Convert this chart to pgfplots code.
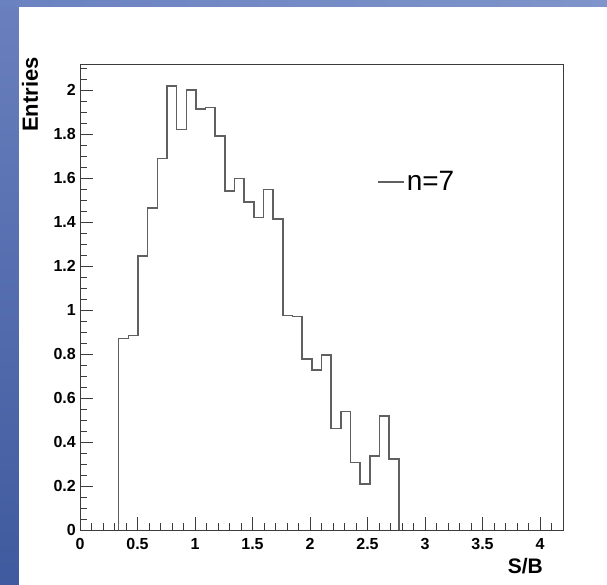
\documentclass[border=0pt]{standalone}
\usepackage{fontspec}
\setmainfont{Liberation Sans}
\usepackage{pgfplots}
\pgfplotsset{compat=1.18}
\definecolor{histgray}{HTML}{606060}
\definecolor{axgray}{HTML}{3C3C3C}
\definecolor{bgblue}{HTML}{4A64A8}
\definecolor{bgblueA}{HTML}{6A80BE}
\definecolor{bgblueB}{HTML}{3F5A9E}
\definecolor{bgblueC}{HTML}{7E94CA}
\definecolor{bgblueD}{HTML}{6A82C0}

\begin{document}
\begin{tikzpicture}[x=1pt,y=1pt]
\fill[bgblue] (0,0) rectangle (607,585);
\shade[top color=bgblueA, bottom color=bgblueB] (0,0) rectangle (19,585);
\shade[left color=bgblueD, right color=bgblueC] (0,578) rectangle (607,585);
\fill[white] (19,0) rectangle (607,578);
\begin{axis}[
  at={(80pt,55pt)}, anchor=south west,
  scale only axis, width=483pt, height=466pt,
  xmin=0, xmax=4.2, ymin=0, ymax=2.119,
  axis line style={axgray, line width=0.9pt},
  every tick/.style={axgray, line width=0.7pt},
  tickpos=left, tick align=inside,
  xtick={0,0.5,1,1.5,2,2.5,3,3.5,4},
  minor xtick={0.1,0.2,...,4.15},
  ytick={0,0.2,0.4,0.6,0.8,1,1.2,1.4,1.6,1.8,2},
  minor ytick={0.05,0.1,...,2.11},
  major tick length=13pt, minor tick length=6.5pt,
  /pgf/number format/assume math mode=true,
  ticklabel style={font=\bfseries\fontsize{16}{16}\selectfont, text=black},
  xticklabel style={anchor=north, inner sep=0pt, yshift=-8pt},
  yticklabel style={anchor=east, inner sep=0pt, xshift=-4pt},
  xlabel={S/B},
  xlabel style={at={(axis description cs:0.9586,0)}, anchor=base east, inner sep=0pt, yshift=-44pt, font=\bfseries\fontsize{21}{21}\selectfont},
  ylabel={Entries},
  ylabel style={at={(axis description cs:-0.087,1.015)}, anchor=base east, inner sep=0pt, font=\bfseries\fontsize{22}{22}\selectfont},
  legend style={at={(rel axis cs:0.615,0.747)}, anchor=west, draw=none, fill=none, inner sep=0pt,
    font=\fontsize{28}{28}\selectfont},
  legend cell align=left,
  legend image code/.code={\draw[#1] (0pt,0pt) -- (26pt,0pt);},
]
\addplot[const plot, histgray, line width=1.5pt] coordinates {
(0.336,0) (0.336,0.871) (0.420,0.885) (0.504,1.245) (0.588,1.465) (0.672,1.690)
(0.756,2.018) (0.840,1.821) (0.924,2.000) (1.008,1.914) (1.092,1.921) (1.176,1.792)
(1.260,1.541) (1.344,1.598) (1.428,1.492) (1.512,1.421) (1.596,1.549) (1.680,1.414)
(1.764,0.976) (1.848,0.970) (1.932,0.777) (2.016,0.727) (2.100,0.795) (2.184,0.462)
(2.268,0.538) (2.352,0.306) (2.436,0.209) (2.520,0.336) (2.604,0.518) (2.688,0.323)
(2.772,0)
};
\addlegendentry{n=7}
\end{axis}
\end{tikzpicture}
\end{document}
